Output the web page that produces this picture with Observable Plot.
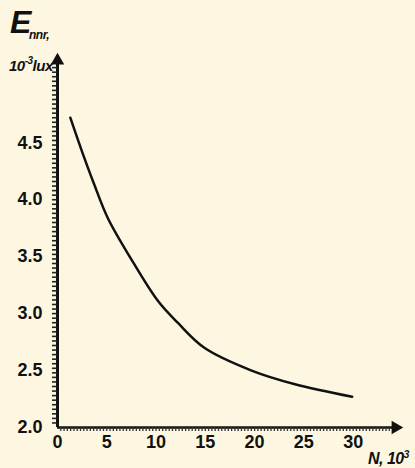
<!DOCTYPE html>
<html>
<head>
<meta charset="utf-8">
<script src="https://cdn.jsdelivr.net/npm/d3@7"></script>
<script src="https://cdn.jsdelivr.net/npm/@observablehq/plot@0.6"></script>
<style>
  html, body { margin: 0; padding: 0; background: #fdf7e2; }
  #wrap { position: relative; width: 415px; height: 468px; overflow: hidden; }
  .lbl { position: absolute; font-family: "Liberation Sans", Arial, sans-serif; font-weight: bold; font-style: italic; color: #111; white-space: nowrap; }
</style>
</head>
<body>
<div id="wrap">
  <div class="lbl" style="left:10px;top:4px;font-size:32px;">E</div>
  <div class="lbl" style="left:29px;top:28px;font-size:12px;letter-spacing:-0.5px;">nnr,</div>
  <div class="lbl" style="left:9px;top:56px;font-size:15px;letter-spacing:-0.5px;">10<sup style="font-size:10px;position:relative;top:-1px;">-3</sup>lux</div>
  <div class="lbl" style="left:368px;top:449px;font-size:16px;letter-spacing:-0.5px;">N, 10<sup style="font-size:10px;">3</sup></div>
</div>
<script>
// Data
const nValues = [1.3, 2.5, 3.7, 5.1, 7.4, 10.2, 12.2, 14.9, 19.7, 24.1, 29.9];
const eValues = [4.72, 4.42, 4.14, 3.84, 3.49, 3.11, 2.92, 2.70, 2.50, 2.38, 2.27];
const xTickValues = [0, 5, 10, 15, 20, 25, 30];
const yTickValues = [2.0, 2.5, 3.0, 3.5, 4.0, 4.5];
const xDomain = [0, 34.5];
const yDomain = [2, 5.24];

const data = nValues.map((n, i) => ({n, e: eValues[i]}));
const minorX = d3.range(1, 102).map(i => i / 3);
const minorY = d3.range(1, 80).map(i => 2 + i * 0.04);

const font = {fontFamily: "Liberation Sans, Arial, sans-serif", fontWeight: "bold", fontSize: 18, fill: "#111"};

const chart = Plot.plot({
  width: 415,
  height: 468,
  marginLeft: 57,
  marginRight: 18,
  marginTop: 58,
  marginBottom: 41,
  style: {background: "transparent", color: "#111"},
  x: {domain: xDomain},
  y: {domain: yDomain},
  marks: [
    Plot.axisX({ticks: xTickValues, tickSize: 0, tickPadding: 8, tickFormat: d => String(d), ...font}),
    Plot.axisY({ticks: yTickValues, tickSize: 0, tickPadding: 15, tickFormat: d => d.toFixed(1), ...font, letterSpacing: 1}),
    // axis lines
    Plot.ruleY([yDomain[0]], {x1: xDomain[0], x2: xDomain[1], stroke: "#111", strokeWidth: 2.5}),
    Plot.ruleX([xDomain[0]], {y1: yDomain[0], y2: yDomain[1], stroke: "#111", strokeWidth: 3}),
    // arrow heads
    Plot.dot([{x: xDomain[1], y: yDomain[0]}], {x: "x", y: "y", symbol: "triangle", r: 5, fill: "#111", stroke: "none", rotate: 90, dx: -2}),
    Plot.dot([{x: xDomain[0], y: yDomain[1]}], {x: "x", y: "y", symbol: "triangle", r: 5, fill: "#111", stroke: "none", rotate: 0, dy: 2}),
    Plot.line(data, {x: "n", y: "e", curve: "catmull-rom", stroke: "#111", strokeWidth: 2.5}),
    // minor ticks along the axes
    Plot.axisX({ticks: minorX, tickSize: 4, tickFormat: () => "", stroke: "#333", strokeWidth: 1.3}),
    Plot.axisY({ticks: minorY, tickSize: 5, tickFormat: () => "", stroke: "#222", strokeWidth: 1.6})
  ]
});
chart.style.position = "absolute";
chart.style.left = "0";
chart.style.top = "0";
document.getElementById("wrap").prepend(chart);
</script>
</body>
</html>
